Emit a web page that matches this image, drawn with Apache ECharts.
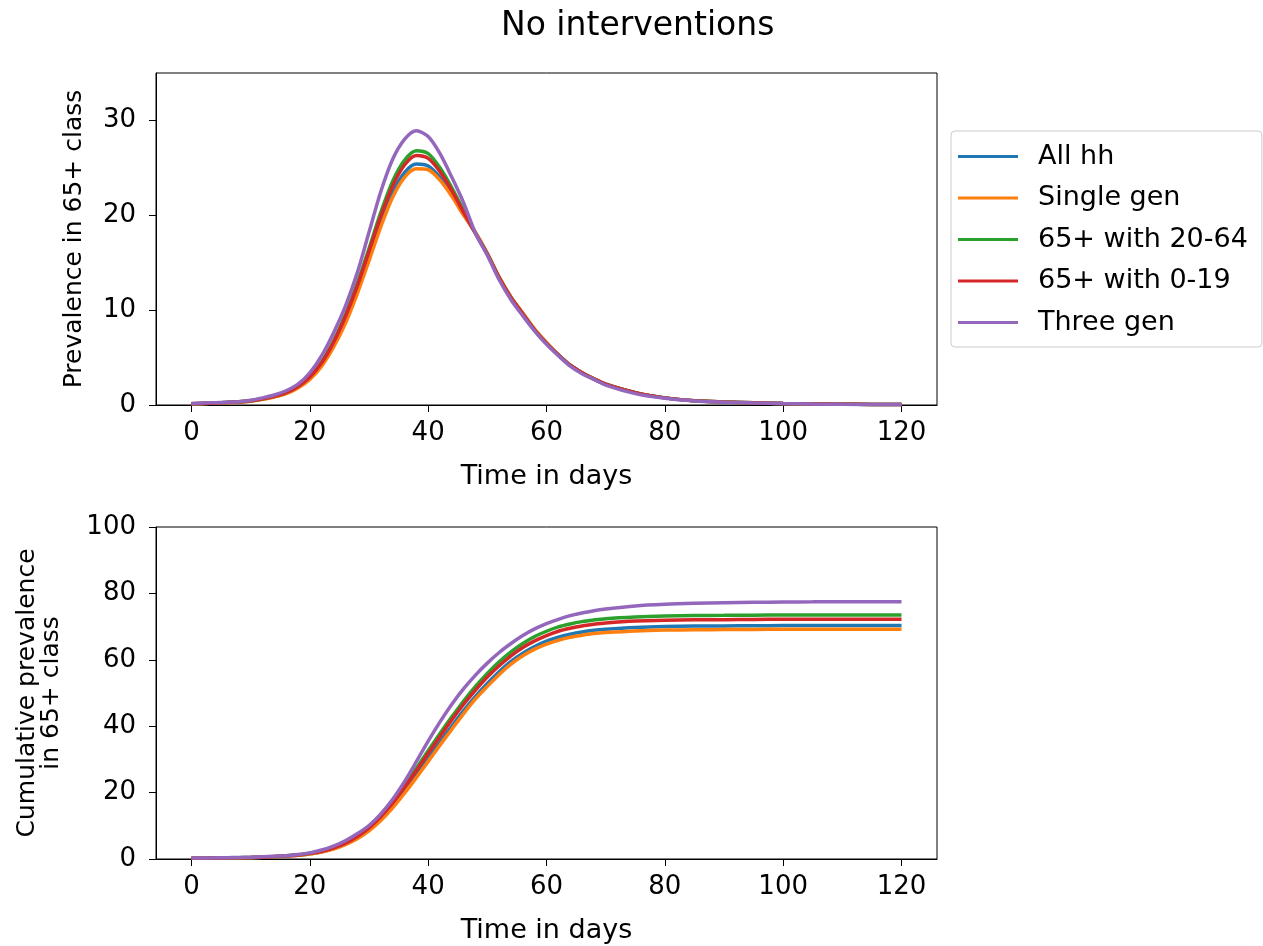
<!DOCTYPE html>
<html>
<head>
<meta charset="utf-8">
<script src="https://cdn.jsdelivr.net/npm/echarts@6/dist/echarts.min.js"></script>
<style>
  html, body { margin: 0; padding: 0; background: #fff; }
  #chart { width: 1263px; height: 946px; }
</style>
</head>
<body>
<div id="chart"></div>
<script>
// time axis (days), shared by all curves
const days = [0,2,4,6,8,10,12,14,16,18,20,22,24,26,28,30,32,34,36,38,40,42,44,46,48,50,52,54,56,58,60,62,64,66,68,70,
  75,80,85,90,95,100,105,110,115,120];
const xTicks = [0,20,40,60,80,100,120];
const topYTicks = [0,10,20,30];
const bottomYTicks = [0,20,40,60,80,100];

const names = ['All hh', 'Single gen', '65+ with 20-64', '65+ with 0-19', 'Three gen'];
const colors = ['#1f77b4', '#ff7f0e', '#2ca02c', '#d62728', '#9467bd'];

// prevalence in 65+ class
const prevAll = [0.12,0.16,0.2,0.26,0.32,0.42,0.62,0.88,1.25,1.9,2.85,4.3,6.4,9.0,12.1,15.7,19.3,22.4,24.5,25.4,25.2,24.0,22.2,20.1,18.1,15.9,13.4,11.3,9.6,7.9,6.5,5.3,4.2,3.4,2.75,2.2,
  1.3,0.75,0.45,0.32,0.23,0.16,0.11,0.08,0.06,0.04];
const prevSingle = [0.1,0.15,0.2,0.25,0.3,0.4,0.6,0.85,1.2,1.8,2.7,4.1,6.1,8.6,11.7,15.2,18.8,21.9,24.0,24.9,24.8,23.7,22.0,20.0,18.2,16.0,13.5,11.4,9.7,8.0,6.6,5.3,4.2,3.4,2.75,2.2,
  1.3,0.75,0.45,0.32,0.23,0.16,0.11,0.08,0.06,0.04];
const prevWork = [0.13,0.17,0.21,0.27,0.33,0.45,0.66,0.94,1.33,2.0,3.0,4.55,6.75,9.5,12.8,16.5,20.3,23.6,25.8,26.8,26.5,25.0,22.9,20.5,18.1,15.9,13.4,11.3,9.6,7.9,6.5,5.3,4.2,3.4,2.75,2.2,
  1.3,0.75,0.45,0.32,0.23,0.16,0.11,0.08,0.06,0.04];
const prevKids = [0.13,0.17,0.21,0.27,0.33,0.44,0.65,0.92,1.3,1.95,2.95,4.45,6.6,9.3,12.5,16.2,19.9,23.1,25.3,26.3,26.0,24.6,22.6,20.3,18.1,15.9,13.4,11.3,9.6,7.9,6.5,5.3,4.2,3.4,2.75,2.2,
  1.3,0.75,0.45,0.32,0.23,0.16,0.11,0.08,0.06,0.04];
const prevThree = [0.15,0.2,0.25,0.3,0.35,0.5,0.75,1.05,1.5,2.2,3.4,5.2,7.6,10.4,13.9,18.2,22.5,25.9,28.0,28.9,28.3,26.5,24.0,21.3,18.1,15.8,13.2,11.1,9.4,7.8,6.4,5.2,4.1,3.3,2.7,2.1,
  1.2,0.7,0.42,0.3,0.22,0.15,0.1,0.07,0.05,0.04];

// cumulative prevalence in 65+ class
const cumAll = [0.22,0.24,0.27,0.3,0.35,0.42,0.53,0.68,0.9,1.15,1.6,2.2,3.15,4.5,6.4,8.9,12.1,16.0,20.5,25.3,30.3,35.2,40.0,44.7,49.0,52.9,56.4,59.5,62.0,64.0,65.6,66.8,67.7,68.4,68.9,69.2,
  69.7,70.0,70.15,70.2,70.25,70.3,70.3,70.3,70.3,70.3];
const cumSingle = [0.2,0.22,0.25,0.28,0.33,0.4,0.5,0.65,0.85,1.1,1.5,2.1,3.0,4.3,6.1,8.5,11.6,15.4,19.8,24.5,29.4,34.3,39.1,43.8,48.2,52.0,55.6,58.7,61.2,63.2,64.7,65.9,66.8,67.4,67.9,68.2,
  68.7,68.95,69.05,69.1,69.15,69.2,69.2,69.2,69.2,69.2];
const cumWork = [0.25,0.27,0.3,0.33,0.38,0.46,0.58,0.74,0.98,1.26,1.75,2.45,3.45,4.95,7.0,9.7,13.2,17.4,22.2,27.3,32.6,37.8,42.8,47.6,52.0,55.9,59.4,62.4,64.9,67.0,68.6,69.9,70.8,71.5,72.0,72.4,
  72.9,73.2,73.35,73.4,73.45,73.5,73.5,73.5,73.5,73.5];
const cumKids = [0.24,0.26,0.29,0.32,0.37,0.45,0.56,0.72,0.95,1.22,1.7,2.35,3.35,4.8,6.8,9.4,12.8,16.9,21.6,26.6,31.8,36.9,41.9,46.6,50.9,54.8,58.2,61.2,63.7,65.7,67.3,68.6,69.5,70.2,70.7,71.1,
  71.7,71.95,72.05,72.1,72.15,72.2,72.2,72.2,72.2,72.2];
const cumThree = [0.3,0.32,0.35,0.4,0.45,0.55,0.7,0.85,1.0,1.35,1.85,2.7,3.9,5.5,7.6,10.1,13.6,18.0,23.3,29.3,35.5,41.3,46.6,51.3,55.4,59.0,62.2,64.9,67.3,69.3,70.9,72.2,73.3,74.1,74.8,75.3,
  76.2,76.7,77.0,77.2,77.3,77.4,77.45,77.5,77.5,77.5];

const prevSets = [prevAll, prevSingle, prevWork, prevKids, prevThree];
const cumSets = [cumAll, cumSingle, cumWork, cumKids, cumThree];

const FONT = 'DejaVu Sans';
const TICK_FS = 26;

function xAxisFor(gridIndex) {
  return {
    type: 'value', gridIndex: gridIndex, min: -6, max: 126,
    name: 'Time in days', nameLocation: 'middle', nameGap: 58,
    nameTextStyle: { fontFamily: FONT, fontSize: 27, color: '#000' },
    axisLine: { show: true, onZero: false, lineStyle: { color: '#000', width: 1 } },
    axisTick: { show: true, length: 7, customValues: xTicks, lineStyle: { color: '#000' } },
    axisLabel: { customValues: xTicks, margin: 15, fontFamily: FONT, fontSize: TICK_FS, color: '#000' },
    splitLine: { show: false }
  };
}

function yAxisFor(gridIndex, max, ticks, name, gap) {
  return {
    type: 'value', gridIndex: gridIndex, min: 0, max: max,
    name: name, nameLocation: 'middle', nameGap: gap,
    nameTextStyle: { fontFamily: FONT, fontSize: 25, color: '#000', lineHeight: 24 },
    axisLine: { show: true, onZero: false, lineStyle: { color: '#000', width: 1 } },
    axisTick: { show: true, length: 7, customValues: ticks, lineStyle: { color: '#000' } },
    axisLabel: { customValues: ticks, margin: 20, fontFamily: FONT, fontSize: TICK_FS, color: '#000' },
    splitLine: { show: false }
  };
}

function lineSeries(vals, i, gridIndex) {
  return {
    type: 'line', name: names[i], xAxisIndex: gridIndex, yAxisIndex: gridIndex,
    data: days.map((d, k) => [d, vals[k]]),
    showSymbol: false, smooth: 0.3,
    lineStyle: { width: 3.5, color: colors[i] },
    itemStyle: { color: colors[i] },
    z: 2 + i
  };
}

const series = [];
prevSets.forEach((v, i) => series.push(lineSeries(v, i, 0)));
cumSets.forEach((v, i) => series.push(lineSeries(v, i, 1)));

const chart = echarts.init(document.getElementById('chart'), null, { renderer: 'canvas' });
chart.setOption({
  animation: false,
  backgroundColor: '#fff',
  color: colors,
  title: {
    text: 'No interventions', left: 496, top: 5,
    textStyle: { fontFamily: FONT, fontSize: 33, fontWeight: 'normal', color: '#000' }
  },
  legend: {
    data: names, orient: 'vertical', left: 951, top: 131,
    icon: 'rect', itemWidth: 60, itemHeight: 3, itemGap: 14.5,
    padding: [12, 14, 11, 7],
    backgroundColor: '#fff', borderColor: '#cccccc', borderWidth: 1, borderRadius: 4,
    textStyle: { fontFamily: FONT, fontSize: 27, color: '#000', lineHeight: 26, padding: [0, 0, 0, 15] }
  },
  grid: [
    { left: 156, top: 73, width: 781, height: 332, show: true, borderColor: '#000', borderWidth: 1, backgroundColor: 'transparent' },
    { left: 156, top: 527, width: 781, height: 332, show: true, borderColor: '#000', borderWidth: 1, backgroundColor: 'transparent' }
  ],
  xAxis: [xAxisFor(0), xAxisFor(1)],
  yAxis: [
    yAxisFor(0, 35, topYTicks, 'Prevalence in 65+ class', 70),
    yAxisFor(1, 100, bottomYTicks, 'Cumulative prevalence\nin 65+ class', 93)
  ],
  series: series
});
</script>
</body>
</html>
